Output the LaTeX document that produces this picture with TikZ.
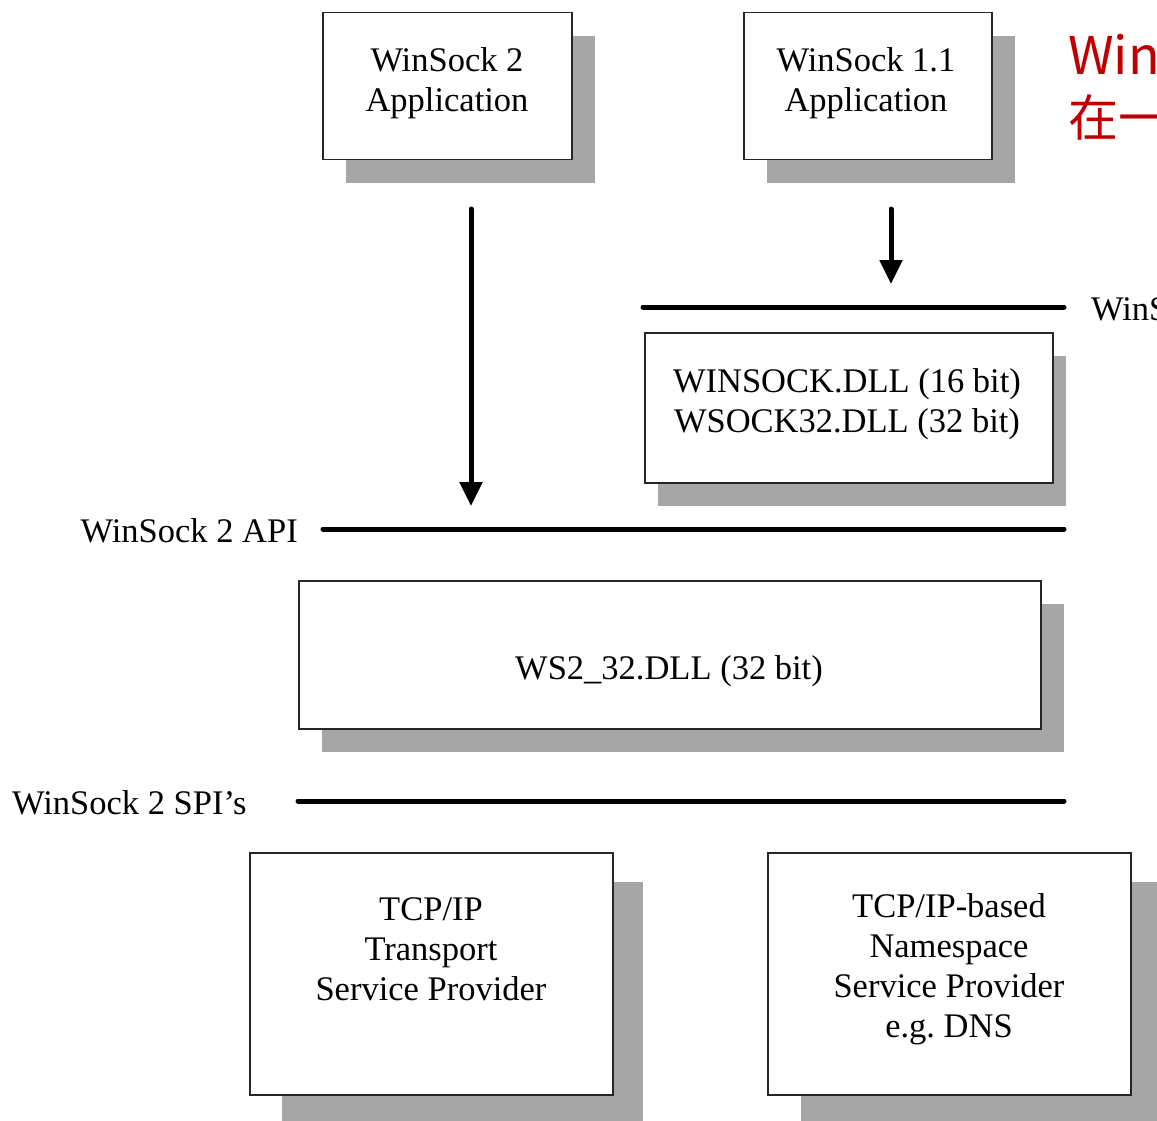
\documentclass[tikz,border=0pt]{standalone}
\usepackage{fontspec}
\setmainfont{Liberation Serif}
\newfontfamily\cjk{Noto Sans CJK SC}
\usetikzlibrary{arrows.meta}
\definecolor{shadowgray}{RGB}{166,166,166}
\definecolor{titlered}{RGB}{192,0,0}
\begin{document}
\begin{tikzpicture}[x=1pt,y=-1pt,
  boxnode/.style={draw=black!85, line width=1.5pt, fill=white, inner sep=0pt, anchor=north west},
  lbl/.style={font=\fontsize{34.5}{40}\selectfont, align=center, inner sep=0pt},
  apiline/.style={line width=5pt, line cap=round},
  flow/.style={line width=5pt, line cap=round, -{Triangle[length=24pt,width=22pt]}}]
\useasboundingbox (0,0) rectangle (1157,1121);
\clip (0,0) rectangle (1157,1121);
\fill[white] (0,0) rectangle (1157,1121);

% WinSock 2 Application
\fill[shadowgray] (346,36) rectangle (595,183);
\node[boxnode, minimum width=249pt, minimum height=147pt] (app2) at (322,12) {};
\node[lbl] (app2t) at (447,83) {WinSock 2\\Application};

% WinSock 1.1 Application
\fill[shadowgray] (767,36) rectangle (1015,183);
\node[boxnode, minimum width=248pt, minimum height=147pt] (app11) at (743,12) {};
\node[lbl] (app11t) at (866,83) {WinSock 1.1\\Application};

% WINSOCK.DLL box
\fill[shadowgray] (658,356) rectangle (1066,506);
\node[boxnode, minimum width=408pt, minimum height=150pt] (wsdll) at (644,332) {};
\node[lbl] (wsdllt) at (847,404) {WINSOCK.DLL (16 bit)\\WSOCK32.DLL (32 bit)};

% WS2_32.DLL
\fill[shadowgray] (322,604) rectangle (1064,752);
\node[boxnode, minimum width=742pt, minimum height=148pt] (ws2) at (298,580) {};
\node[lbl] (ws2t) at (669,671) {WS2\_32.DLL (32 bit)};

% TCP/IP Transport SP
\fill[shadowgray] (282,882) rectangle (643,1125);
\node[boxnode, minimum width=363pt, minimum height=242pt] (tcp) at (249,852) {};
\node[lbl] (tcpt) at (431,949) {TCP/IP\\Transport\\Service Provider};

% TCP/IP-based Namespace SP
\fill[shadowgray] (801,882) rectangle (1170,1125);
\node[boxnode, minimum width=363pt, minimum height=242pt] (ns) at (767,852) {};
\node[lbl] (nst) at (949,969) {TCP/IP-based\\Namespace\\Service Provider\\e.g.\ DNS};

% API lines
\coordinate (l11w) at (643,307);
\coordinate (l11e) at (1064,307);
\coordinate (apiw) at (323,529);
\coordinate (apie) at (1064,529);
\coordinate (spiw) at (298,801);
\coordinate (spie) at (1064,801);
\draw[apiline] (l11w) -- (l11e);
\draw[apiline] (apiw) -- (apie);
\draw[apiline] (spiw) -- (spie);

% labels of lines
\node[lbl, anchor=east] (apil) at (298,531) {WinSock 2 API};
\node[lbl, anchor=west] (spil) at (12,803) {WinSock 2 SPI’s};
\node[lbl, anchor=west] (l11l) at (1091,309) {WinSock 1.1 API};

% arrows
\coordinate (a1s) at (471,209);
\coordinate (a1e) at (471,506);
\coordinate (a2s) at (891,209);
\coordinate (a2e) at (891,284);
\draw[flow] (a1s) -- (a1e);
\draw[flow] (a2s) -- (a2e);

% red title (cut off)
\node[anchor=base west, inner sep=0pt, text=titlered, font=\cjk\fontsize{52}{60}\selectfont] (title1) at (1068,75) {Win};
\node[anchor=base west, inner sep=0pt, text=titlered, font=\cjk\fontsize{50}{60}\selectfont] (title2) at (1068,137) {在一};
\end{tikzpicture}
\end{document}
